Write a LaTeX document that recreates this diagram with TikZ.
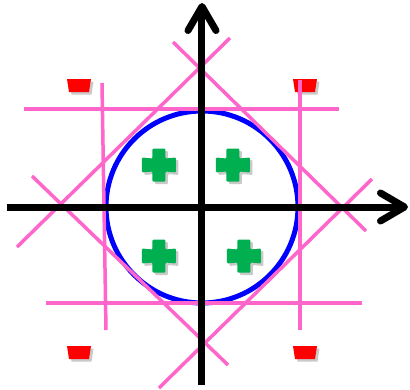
\documentclass[tikz,border=0pt]{standalone}
\usepackage{tikz}
\usetikzlibrary{arrows.meta,shadows}
\usepackage{xcolor}
\definecolor{Pink}{HTML}{FF66CC}
\definecolor{Ring}{HTML}{0000FF}
\definecolor{PosGreen}{HTML}{00B050}
\definecolor{NegRed}{HTML}{FF0000}
\tikzset{
  axis/.style={line width=7pt, draw=black, -{Straight Barb[length=24pt,width=28pt,round]}},
  cutline/.style={line width=3.5pt, draw=Pink},
  ring/.style={line width=5pt, draw=Ring},
  markshadow/.style={drop shadow={shadow xshift=2.5pt, shadow yshift=-2.5pt, opacity=.35, fill=black!60}},
  plusmark/.pic={
    \fill[PosGreen, markshadow, rounded corners=1pt]
      (-6.5,16.5) -- (6.5,16.5) -- (6.5,6.5) -- (17,7.5) -- (17,-7.5) -- (6.5,-6.5) -- (6.5,-16.5)
      -- (-6.5,-16.5) -- (-6.5,-6.5) -- (-17,-7.5) -- (-17,7.5) -- (-6.5,6.5) -- cycle;
  },
  minusmark/.pic={
    \fill[NegRed, markshadow] (-12,6.5) -- (12,6.5) -- (10,-6.5) -- (-10,-6.5) -- cycle;
  }
}
\begin{document}
\begin{tikzpicture}[x=1pt,y=1pt]
\useasboundingbox[fill=white] (-202,-182) rectangle (208,207);
% negative class
\foreach \x/\y in {-123/121.5,103/121.5,-123/-145.5,103/-145.5}{
  \pic at (\x,\y) {minusmark};
}
% decision boundary
\draw[ring] (0,0) circle (96);
% separating lines
\draw[cutline] (-178,98) -- (137,98);
\draw[cutline] (-156,-96) -- (160,-96);
\draw[cutline] (-100,124) -- (-96,-123);
\draw[cutline] (98,127) -- (98,-123);
\draw[cutline] (-29,165) -- (164,-24);
\draw[cutline] (28,169) -- (-185,-40);
\draw[cutline] (-170,31) -- (26,-158);
\draw[cutline] (170,28) -- (-43,-181);
% axes
\coordinate (xl) at (-195,0);
\coordinate (xr) at (206,0);
\coordinate (yb) at (0,-178);
\coordinate (yt) at (0,204);
\draw[axis] (xl) -- (xr);
\draw[axis] (yb) -- (yt);
% positive class
\foreach \x/\y in {-43/42,31/42,-43/-49,42/-49}{
  \pic at (\x,\y) {plusmark};
}
\end{tikzpicture}
\end{document}
